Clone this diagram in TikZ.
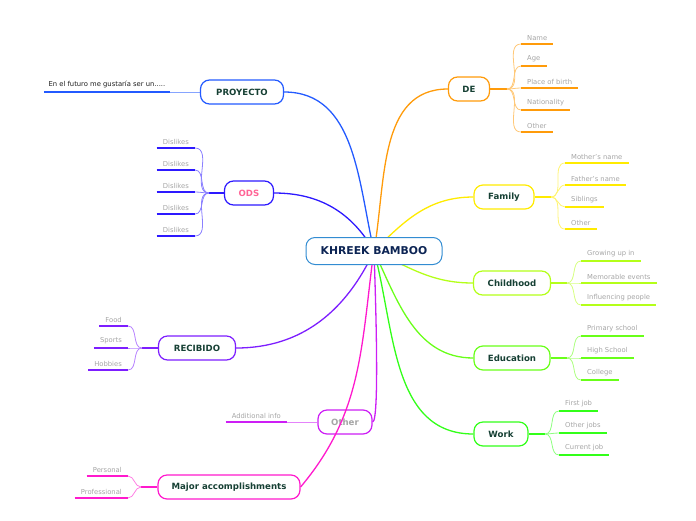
\documentclass[tikz,border=0pt]{standalone}
\usepackage{fontspec}
\setmainfont{DejaVu Sans}
\usepackage{tikz}
\usetikzlibrary{positioning, backgrounds}
\usepackage{xcolor}
\definecolor{hubline}{RGB}{50,140,210}
\definecolor{hubtext}{RGB}{12,36,84}
\definecolor{topictext}{RGB}{22,64,52}
\definecolor{leafgray}{RGB}{165,165,165}
\definecolor{notetext}{RGB}{30,30,30}
\definecolor{odspink}{RGB}{255,100,150}
\definecolor{cProyecto}{RGB}{35,90,255}
\definecolor{cOds}{RGB}{45,25,255}
\definecolor{cRecibido}{RGB}{125,30,255}
\definecolor{cOther}{RGB}{205,30,245}
\definecolor{cMajor}{RGB}{255,25,205}
\definecolor{cDe}{RGB}{255,155,10}
\definecolor{cFamily}{RGB}{255,235,0}
\definecolor{cChild}{RGB}{180,255,25}
\definecolor{cEdu}{RGB}{105,255,25}
\definecolor{cWork}{RGB}{50,255,25}

\begin{document}
\begin{tikzpicture}[x=1pt, y=1pt,
    root/.style={draw=hubline, fill=white, text=hubtext, rounded corners=9pt,
                 line width=1pt, minimum width=136pt, minimum height=27pt,
                 inner sep=0pt, font=\fontsize{10.8}{13}\selectfont\bfseries},
    topic/.style={draw=#1, fill=white, text=topictext, rounded corners=9pt,
                  line width=1.2pt, minimum height=24pt, inner sep=0pt,
                  font=\fontsize{8.6}{10}\selectfont\bfseries},
    detail/.style={text=leafgray, inner xsep=6pt, inner ysep=3.5pt,
                   font=\fontsize{6.8}{8}\selectfont},
    mainedge/.style={draw=#1, line width=1.3pt},
    stub/.style={draw=#1, line width=1.3pt},
    twig/.style={draw=#1!55!white, line width=0.8pt},
    underline/.style={draw=#1, line width=2pt},
]
\useasboundingbox (0,0) rectangle (696,-520);

% ─── Centre ──────────────────────────────────────────────────────
\node[root] (hub) at (374,-251) {KHREEK BAMBOO};

% ─── Left-hand topics ────────────────────────────────────────────
\node[topic=cProyecto, minimum width=83pt] (proyecto) at (242,-92) {PROYECTO};
\node[topic=cOds, minimum width=49pt, text=odspink] (ods) at (249,-193) {ODS};
\node[topic=cRecibido, minimum width=77pt] (recibido) at (197,-348) {RECIBIDO};
\node[topic=cOther, minimum width=54pt, text=leafgray] (other) at (345,-422) {Other};
\node[topic=cMajor, minimum width=142pt] (major) at (229,-487) {Major accomplishments};

% ─── Right-hand topics ───────────────────────────────────────────
\node[topic=cDe, minimum width=41pt] (de) at (469,-89) {DE};
\node[topic=cFamily, minimum width=60pt] (family) at (504,-197) {Family};
\node[topic=cChild, minimum width=77pt] (childhood) at (512,-283) {Childhood};
\node[topic=cEdu, minimum width=76pt] (education) at (512,-358) {Education};
\node[topic=cWork, minimum width=54pt] (work) at (501,-434) {Work};

% ─── Junctions where the twigs fan out ───────────────────────────
\coordinate (proyJ) at (170,-92);
\coordinate (odsJ)  at (209,-193);
\coordinate (recJ)  at (142,-348);
\coordinate (othJ)  at (287,-422);
\coordinate (majJ)  at (141,-487);
\coordinate (deJ)   at (507,-89);
\coordinate (famJ)  at (551,-197);
\coordinate (chJ)   at (567,-283);
\coordinate (eduJ)  at (567,-358);
\coordinate (workJ) at (545,-434);

% ─── Leaves, right side (text sits on its underline) ─────────────
\node[detail, anchor=south west] (de1) at (521,-44)  {Name};
\node[detail, anchor=south west] (de2) at (521,-66)  {Age};
\node[detail, anchor=south west] (de3) at (521,-88)  {Place of birth};
\node[detail, anchor=south west] (de4) at (521,-110) {Nationality};
\node[detail, anchor=south west] (de5) at (521,-132) {Other};

\node[detail, anchor=south west] (fam1) at (565,-163) {Mother's name};
\node[detail, anchor=south west] (fam2) at (565,-185) {Father's name};
\node[detail, anchor=south west] (fam3) at (565,-207) {Siblings};
\node[detail, anchor=south west] (fam4) at (565,-229) {Other};

\node[detail, anchor=south west] (ch1) at (581,-261) {Growing up in};
\node[detail, anchor=south west] (ch2) at (581,-283) {Memorable events};
\node[detail, anchor=south west] (ch3) at (581,-305) {Influencing people};

\node[detail, anchor=south west] (edu1) at (581,-336) {Primary school};
\node[detail, anchor=south west] (edu2) at (581,-358) {High School};
\node[detail, anchor=south west] (edu3) at (581,-380) {College};

\node[detail, anchor=south west] (work1) at (559,-411) {First job};
\node[detail, anchor=south west] (work2) at (559,-433) {Other jobs};
\node[detail, anchor=south west] (work3) at (559,-455) {Current job};

% ─── Leaves, left side ───────────────────────────────────────────
\node[detail, anchor=south east, text=notetext, inner xsep=4.5pt] (proy1) at (170,-92)
  {En el futuro me gustaría ser un.....};

\foreach \i/\y in {1/148, 2/170, 3/192, 4/214, 5/236}
  \node[detail, anchor=south east] (ods\i) at (195,-\y) {Dislikes};

\node[detail, anchor=south east] (rec1) at (128,-326) {Food};
\node[detail, anchor=south east] (rec2) at (128,-348) {Sports};
\node[detail, anchor=south east] (rec3) at (128,-370) {Hobbies};

\node[detail, anchor=south east] (oth1) at (287,-422) {Additional info};

\node[detail, anchor=south east] (maj1) at (128,-476) {Personal};
\node[detail, anchor=south east] (maj2) at (128,-498) {Professional};

% ─── Edges (kept behind the boxes) ───────────────────────────────
\begin{scope}[on background layer]
  % hub -> topics
  \draw[mainedge=cProyecto] (hub.center) to[out=103, in=0] (proyecto.east);
  \draw[mainedge=cOds]      (hub.center) to[out=120, in=0] (ods.east);
  \draw[mainedge=cRecibido] (hub.center) to[out=-115, in=0] (recibido.east);
  \draw[mainedge=cOther]    (hub.center) to[out=-89, in=0, looseness=0.12] (other.east);
  \draw[mainedge=cDe]       (hub.center) to[out=80, in=180] (de.west);
  \draw[mainedge=cFamily]   (hub.center) to[out=45, in=180] (family.west);
  \draw[mainedge=cChild]    (hub.center) to[out=-25, in=180] (childhood.west);
  \draw[mainedge=cEdu]      (hub.center) to[out=-65, in=180] (education.west);
  \draw[mainedge=cWork]     (hub.center) to[out=-75, in=180] (work.west);

  % topic -> junction stubs
  \draw[twig=cProyecto] (proyecto.west) -- (proyJ);
  \draw[stub=cOds]      (ods.west) -- (odsJ);
  \draw[stub=cRecibido] (recibido.west) -- (recJ);
  \draw[twig=cOther]    (other.west) -- (othJ);
  \draw[stub=cMajor]    (major.west) -- (majJ);
  \draw[stub=cDe]       (de.east) -- (deJ);
  \draw[stub=cFamily]   (family.east) -- (famJ);
  \draw[stub=cChild]    (childhood.east) -- (chJ);
  \draw[stub=cEdu]      (education.east) -- (eduJ);
  \draw[stub=cWork]     (work.east) -- (workJ);
\end{scope}

% this one runs over the Other box, as in the source
\draw[mainedge=cMajor] ([xshift=-2pt]hub.south) to[out=-97, in=50] (major.east);

% junction -> leaves, then the leaf underline
\foreach \l in {de1, de2, de3, de4, de5} {
  \draw[twig=cDe] (deJ) to[out=0, in=180] (\l.south west);
  \draw[underline=cDe] (\l.south west) -- (\l.south east);
}
\foreach \l in {fam1, fam2, fam3, fam4} {
  \draw[twig=cFamily] (famJ) to[out=0, in=180] (\l.south west);
  \draw[underline=cFamily] (\l.south west) -- (\l.south east);
}
\foreach \l in {ch1, ch2, ch3} {
  \draw[twig=cChild] (chJ) to[out=0, in=180] (\l.south west);
  \draw[underline=cChild] (\l.south west) -- (\l.south east);
}
\foreach \l in {edu1, edu2, edu3} {
  \draw[twig=cEdu] (eduJ) to[out=0, in=180] (\l.south west);
  \draw[underline=cEdu] (\l.south west) -- (\l.south east);
}
\foreach \l in {work1, work2, work3} {
  \draw[twig=cWork] (workJ) to[out=0, in=180] (\l.south west);
  \draw[underline=cWork] (\l.south west) -- (\l.south east);
}
\foreach \l in {ods1, ods2, ods3, ods4, ods5} {
  \draw[twig=cOds] (odsJ) to[out=180, in=0] (\l.south east);
  \draw[underline=cOds] (\l.south west) -- (\l.south east);
}
\foreach \l in {rec1, rec2, rec3} {
  \draw[twig=cRecibido] (recJ) to[out=180, in=0] (\l.south east);
  \draw[underline=cRecibido] (\l.south west) -- (\l.south east);
}
\foreach \l in {maj1, maj2} {
  \draw[twig=cMajor] (majJ) to[out=180, in=0] (\l.south east);
  \draw[underline=cMajor] (\l.south west) -- (\l.south east);
}
\draw[underline=cOther] (oth1.south west) -- (oth1.south east);
\draw[underline=cProyecto] (proy1.south west) -- (proy1.south east);

\end{tikzpicture}
\end{document}
